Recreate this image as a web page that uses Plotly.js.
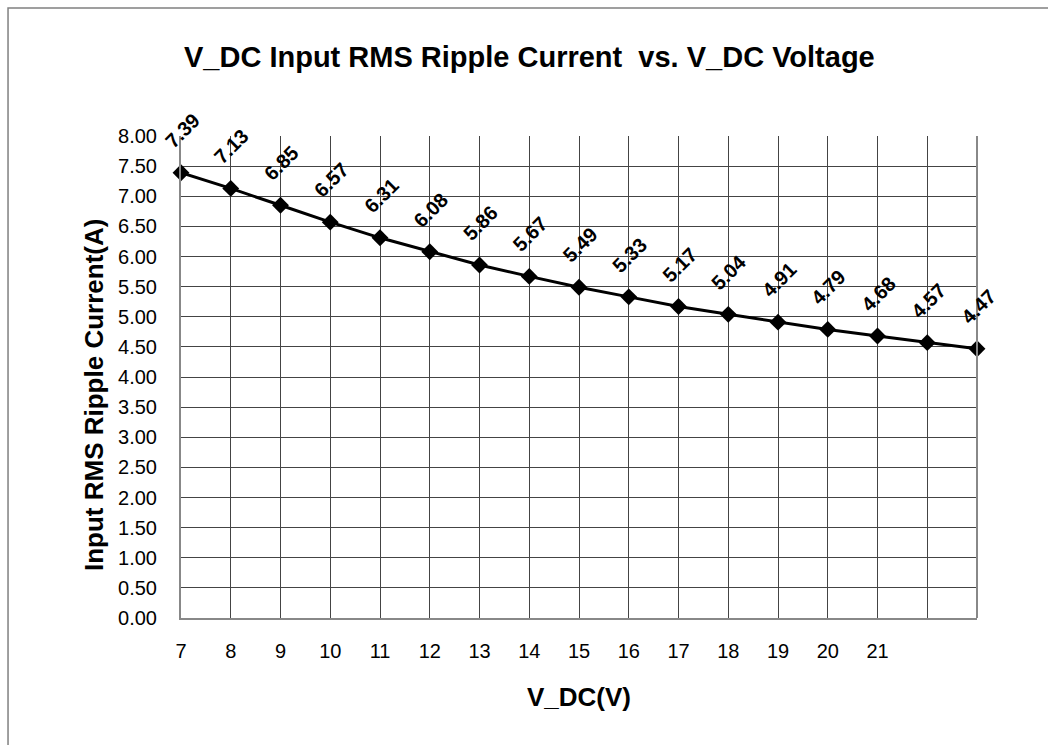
<!DOCTYPE html>
<html>
<head>
<meta charset="utf-8">
<script src="https://cdn.plot.ly/plotly-3.0.1.min.js"></script>
<style>html,body{margin:0;padding:0;background:#fff;}#chart{width:1048px;height:745px;}</style>
</head>
<body>
<div id="chart"></div>
<script>
var voltages = [7, 8, 9, 10, 11, 12, 13, 14, 15, 16, 17, 18, 19, 20, 21, 22, 23];
var rippleCurrent = [7.39, 7.13, 6.85, 6.57, 6.31, 6.08, 5.86, 5.67, 5.49, 5.33, 5.17, 5.04, 4.91, 4.79, 4.68, 4.57, 4.47];
var xTickLabels = ['7', '8', '9', '10', '11', '12', '13', '14', '15', '16', '17', '18', '19', '20', '21', '', ''];
var yTickVals = [0, 0.5, 1, 1.5, 2, 2.5, 3, 3.5, 4, 4.5, 5, 5.5, 6, 6.5, 7, 7.5, 8];

var FONT = 'Liberation Sans, Arial, sans-serif';

var trace = {
  x: voltages,
  y: rippleCurrent,
  type: 'scatter',
  mode: 'lines+markers',
  line: {color: '#000000', width: 3},
  marker: {symbol: 'diamond', size: 13, color: '#000000'},
  cliponaxis: false,
  hoverinfo: 'x+y'
};

var annotations = voltages.map(function (v, i) {
  return {
    x: v, y: rippleCurrent[i], xref: 'x', yref: 'y',
    text: '<b>' + rippleCurrent[i].toFixed(2) + '</b>',
    showarrow: false, textangle: -45,
    xanchor: 'center', yanchor: 'middle',
    yshift: 42, xshift: 1,
    font: {family: FONT, size: 20, color: '#000000'}
  };
});
annotations.push({
  xref: 'paper', yref: 'paper', x: 0.5, y: 1.0,
  text: '<b>V_DC Input RMS Ripple Current  vs. V_DC Voltage</b>',
  showarrow: false, xanchor: 'center', yanchor: 'middle',
  xshift: -50, yshift: 79,
  font: {family: FONT, size: 29, color: '#000000'}
});
annotations.push({
  xref: 'paper', yref: 'paper', x: -0.2173, y: 1.278,
  text: '<b>V_DC Input RMS Ripple Current</b>',
  showarrow: false, xanchor: 'left', yanchor: 'bottom',
  xshift: 8,
  font: {family: FONT, size: 18, color: '#000000'}
});
annotations.push({
  xref: 'paper', yref: 'paper', x: -0.2173, y: 0.4627,
  text: '<b>Input RMS Ripple Current(A)</b>',
  showarrow: false, textangle: -90, xanchor: 'center', yanchor: 'middle',
  xshift: 86,
  font: {family: FONT, size: 26, color: '#000000'}
});

var layout = {
  width: 1048, height: 745,
  margin: {l: 181, r: 71, t: 136, b: 127},
  paper_bgcolor: '#ffffff', plot_bgcolor: '#ffffff',
  showlegend: false,
  font: {family: FONT, size: 20, color: '#000000'},
  xaxis: {
    range: [7, 23],
    tickvals: voltages, ticktext: xTickLabels,
    showgrid: true, gridcolor: '#444444', gridwidth: 1,
    zeroline: false,
    showline: true, linecolor: '#888888', linewidth: 2, mirror: false,
    ticks: '', ticklabelstandoff: 14,
    tickfont: {family: FONT, size: 20, color: '#000000'},
    title: {text: '<b>V_DC(V)</b>', font: {family: FONT, size: 26, color: '#000000'}, standoff: 27}
  },
  yaxis: {
    range: [0, 8],
    tickvals: yTickVals, tickformat: '.2f',
    showgrid: true, gridcolor: '#444444', gridwidth: 1,
    zeroline: false,
    showline: true, linecolor: '#888888', linewidth: 2,
    ticks: '', ticklabelstandoff: 18,
    tickfont: {family: FONT, size: 20, color: '#000000'}
  },
  shapes: [
    {type: 'rect', xref: 'paper', yref: 'paper', x0: -0.2173, x1: 1.2, y0: -0.6, y1: 1.2656,
     line: {color: '#808080', width: 1.5}, fillcolor: 'rgba(0,0,0,0)', layer: 'below'},
    {type: 'line', xref: 'paper', yref: 'paper', x0: 1, x1: 1, y0: 0, y1: 1,
     line: {color: '#888888', width: 2}}
  ],
  annotations: annotations
};

Plotly.newPlot('chart', [trace], layout, {displayModeBar: false, staticPlot: true});
</script>
</body>
</html>
